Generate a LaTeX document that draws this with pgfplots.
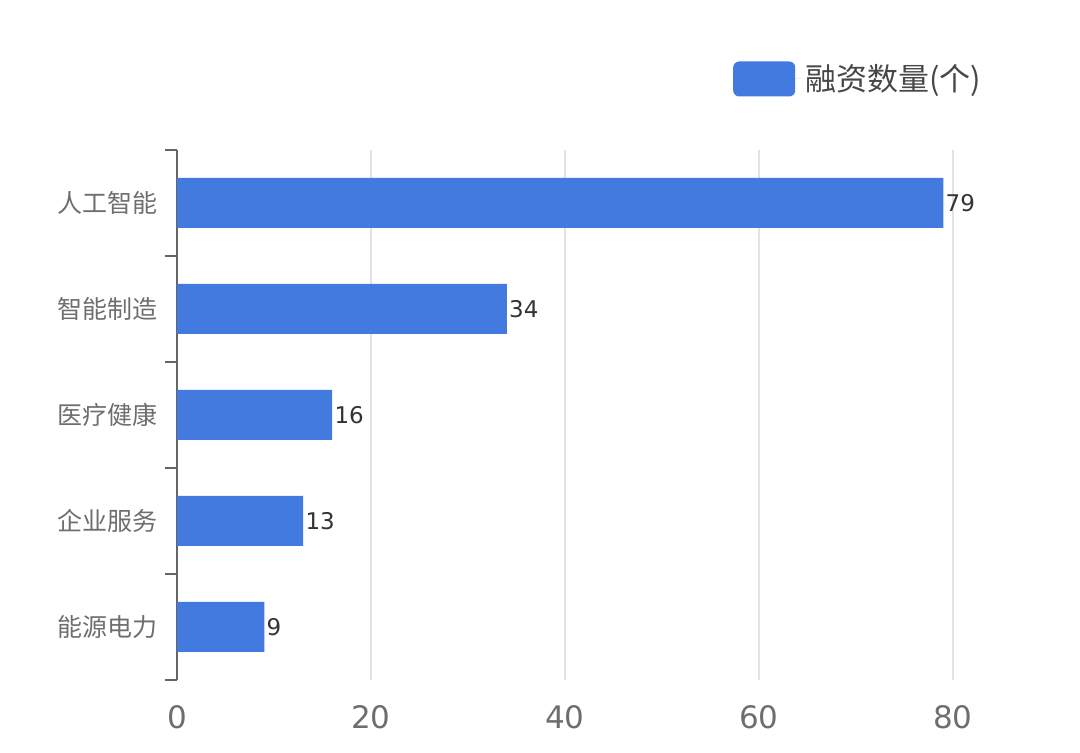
\documentclass[border=0pt]{standalone}
\usepackage{pgfplots}
\pgfplotsset{compat=1.18}
\usepackage{fontspec}
\setmainfont{Noto Sans CJK SC}
\newfontfamily\numfont{DejaVu Sans}
\definecolor{barblue}{HTML}{437AE0}
\definecolor{labgray}{HTML}{6E6E6E}
\definecolor{axgray}{HTML}{666666}
\definecolor{gridgray}{HTML}{E0E4E8}
\definecolor{valdark}{HTML}{333333}

\pgfplotstableread{
y val
0 9
1 13
2 16
3 34
4 79
}\fundtable

\begin{document}
\begin{tikzpicture}[x=1pt,y=1pt]
\useasboundingbox (0,0) rectangle (540,376.5);
\begin{axis}[
    at={(88.5pt,36.5pt)}, anchor=south west,
    scale only axis, width=388pt, height=265pt,
    xbar, bar width=25pt,
    xmin=0, xmax=80, ymin=-0.5, ymax=4.5,
    /pgf/number format/assume math mode=true,
    axis x line*=bottom, axis y line*=left,
    x axis line style={draw=none},
    y axis line style={draw=axgray, line width=1pt},
    xtick={0,20,...,80},
    x tick style={draw=none},
    xmajorgrids, grid style={draw=gridgray, line width=0.8pt},
    xticklabel style={font=\numfont\fontsize{15.5}{18}\selectfont, text=labgray, yshift=-3pt},
    ytick={-0.5,0.5,...,4.5},
    yticklabels={},
    y tick style={draw=axgray, line width=1pt},
    tick align=outside, major tick length=6pt,
    extra y ticks={0,1,2,3,4},
    extra y tick labels={能源电力,企业服务,医疗健康,智能制造,人工智能},
    extra y tick style={major tick length=0pt, yticklabel style={font=\fontsize{12.5}{14}\selectfont, text=labgray, xshift=-6pt}},
    nodes near coords,
    nodes near coords style={anchor=west, inner sep=1pt, font=\numfont\fontsize{11.5}{14}\selectfont, text=valdark},
    legend style={at={(rel axis cs:1.042,1.134)}, anchor=east, draw=none, fill=none,
        font=\fontsize{15.5}{18}\selectfont, text=valdark!90, inner sep=0pt,
        /tikz/every even column/.append style={column sep=0pt}},
    legend cell align=left,
    legend image code/.code={\fill[barblue, rounded corners=3pt] (0pt,-8.75pt) rectangle (31pt,8.75pt); \path (31pt,0) -- (34pt,0);},
]
\addplot[fill=barblue, draw=none] table[x=val, y=y] {\fundtable};
\addlegendentry{融资数量(个)}
\end{axis}
\end{tikzpicture}
\end{document}
